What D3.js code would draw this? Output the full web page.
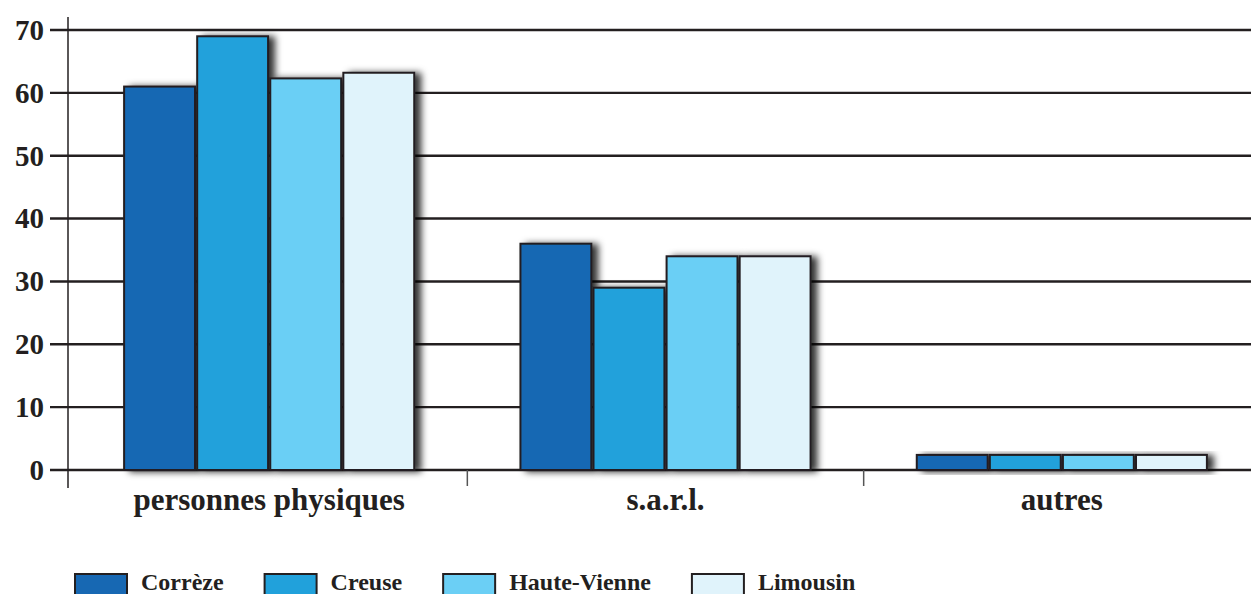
<!DOCTYPE html>
<html>
<head>
<meta charset="utf-8">
<script src="https://cdn.jsdelivr.net/npm/d3@7"></script>
<style>
	html, body { margin: 0; padding: 0; background: #fff; }
	svg { display: block; font-family: "Liberation Serif", "DejaVu Serif", serif; font-weight: bold; }
</style>
</head>
<body>
<svg id="chart" width="1251" height="594"></svg>
<script>
const CATEGORIES = ["personnes physiques", "s.a.r.l.", "autres"];
const SERIES = ["Corrèze", "Creuse", "Haute-Vienne", "Limousin"];
const COLORS = ["#1768b3", "#21a1db", "#6bcff5", "#e0f3fb"];
// one array per series, in category order
const CORREZE = [61, 36, 2.4];
const CREUSE = [69, 29, 2.4];
const HAUTE_VIENNE = [62.3, 34, 2.4];
const LIMOUSIN = [63.2, 34, 2.4];
const Y_TICKS = [0, 10, 20, 30, 40, 50, 60, 70];

const VALUES = [CORREZE, CREUSE, HAUTE_VIENNE, LIMOUSIN];
const INK = "#231f20";

const svg = d3.select("#chart");

// shadow behind each bar
const defs = svg.append("defs");
defs.append("filter")
	.attr("id", "shadow")
	.attr("x", "-20%").attr("y", "-20%")
	.attr("width", "150%").attr("height", "150%")
	.append("feDropShadow")
	.attr("dx", 6)
	.attr("dy", 1)
	.attr("stdDeviation", 3.5)
	.attr("flood-color", "#000")
	.attr("flood-opacity", 0.8);

const xScale = d3.scaleBand()
	.domain(CATEGORIES)
	.range([71, 1260])
	.paddingInner(0.268)
	.paddingOuter(0.134);

const xSub = d3.scaleBand()
	.domain(SERIES)
	.range([0, xScale.bandwidth()])
	.paddingInner(0.03);

const yScale = d3.scaleLinear()
	.domain([0, 70])
	.range([470, 30]);

const color = d3.scaleOrdinal().domain(SERIES).range(COLORS);

// grid lines
svg.append("g")
	.selectAll("line")
	.data(Y_TICKS)
	.join("line")
	.attr("x1", 50)
	.attr("x2", 1251)
	.attr("y1", d => yScale(d))
	.attr("y2", d => yScale(d))
	.attr("stroke", INK)
	.attr("stroke-width", 2.4);

// y axis line
svg.append("line")
	.attr("x1", 68).attr("x2", 68)
	.attr("y1", 17).attr("y2", 488)
	.attr("stroke", INK)
	.attr("stroke-width", 1.5);

// separators between categories
svg.append("g")
	.selectAll("line")
	.data(CATEGORIES.slice(1))
	.join("line")
	.attr("x1", d => xScale(d) - xScale.step() * xScale.paddingInner() / 2)
	.attr("x2", d => xScale(d) - xScale.step() * xScale.paddingInner() / 2)
	.attr("y1", yScale(0))
	.attr("y2", yScale(0) + 16)
	.attr("stroke", "#555")
	.attr("stroke-width", 1.5);

// y tick labels
svg.append("g")
	.selectAll("text")
	.data(Y_TICKS)
	.join("text")
	.attr("x", 44)
	.attr("y", d => yScale(d))
	.attr("dy", "0.34em")
	.attr("text-anchor", "end")
	.attr("font-size", 29)
	.attr("fill", INK)
	.text(d => d);

// bars
const groups = svg.append("g")
	.selectAll("g")
	.data(CATEGORIES)
	.join("g")
	.attr("transform", c => `translate(${xScale(c)},0)`);

groups.selectAll("rect")
	.data((c, ci) => SERIES.map((s, si) => ({ series: s, value: VALUES[si][ci] })))
	.join("rect")
	.attr("x", d => xSub(d.series))
	.attr("y", d => yScale(d.value))
	.attr("width", xSub.bandwidth())
	.attr("height", d => yScale(0) - yScale(d.value))
	.attr("fill", d => color(d.series))
	.attr("stroke", INK)
	.attr("stroke-width", 2)
	.attr("filter", "url(#shadow)");

// category labels
svg.append("g")
	.selectAll("text")
	.data(CATEGORIES)
	.join("text")
	.attr("x", c => xScale(c) + xScale.bandwidth() / 2)
	.attr("y", 510)
	.attr("text-anchor", "middle")
	.attr("font-size", 31)
	.attr("fill", INK)
	.text(c => c);

// legend, laid out left to right
const legend = svg.append("g");
let lx = 75;
SERIES.forEach(s => {
	legend.append("rect")
		.attr("x", lx)
		.attr("y", 574)
		.attr("width", 52)
		.attr("height", 24)
		.attr("fill", color(s))
		.attr("stroke", INK)
		.attr("stroke-width", 2);
	const t = legend.append("text")
		.attr("x", lx + 66)
		.attr("y", 590)
		.attr("font-size", 24)
		.attr("fill", INK)
		.text(s);
	lx += 66 + t.node().getComputedTextLength() + 41;
});
</script>
</body>
</html>
